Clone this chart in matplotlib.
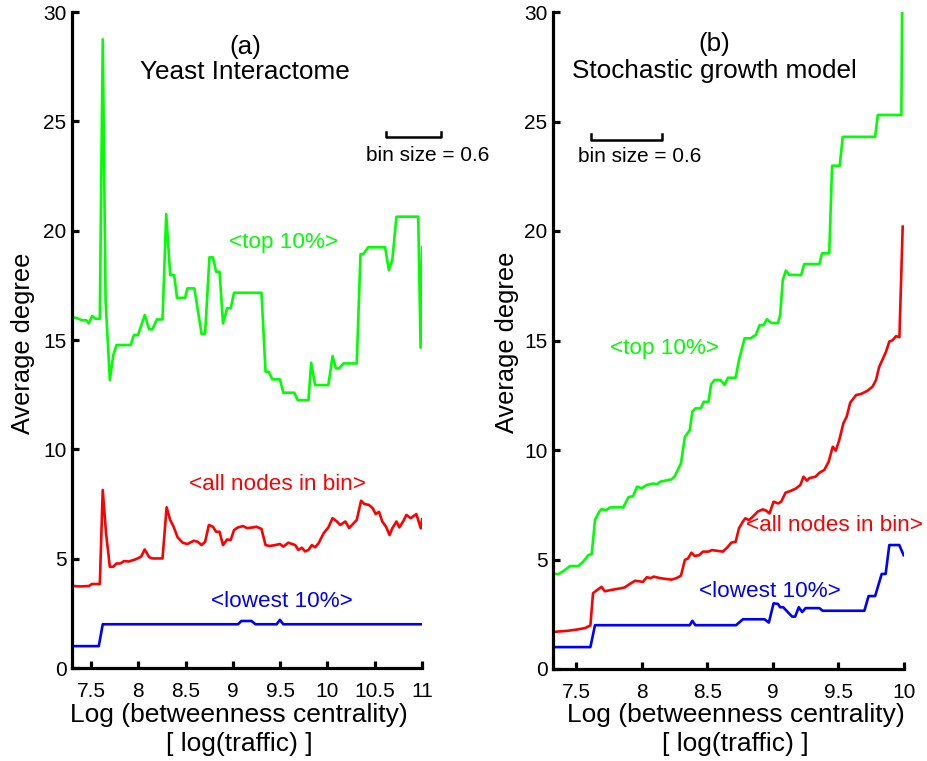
import matplotlib
matplotlib.use("Agg")
import matplotlib.pyplot as plt

plt.rcParams['font.family'] = ['Liberation Sans', 'DejaVu Sans']

# ---------------- Panel (a): Yeast Interactome ----------------
a_top_x = [7.31, 7.353, 7.406, 7.452, 7.477, 7.513, 7.548, 7.594, 7.625, 7.655, 7.70, 7.736, 7.77,
           7.92, 7.955, 7.998, 8.069, 8.115, 8.15, 8.197, 8.257, 8.296, 8.338, 8.38, 8.41, 8.495,
           8.52, 8.594, 8.67, 8.707, 8.753, 8.79, 8.824, 8.86, 8.896, 8.94, 8.977, 9.013, 9.303,
           9.346, 9.38, 9.417, 9.498, 9.534, 9.65, 9.686, 9.80, 9.828, 9.87, 10.01, 10.055, 10.09,
           10.125, 10.17, 10.31, 10.35, 10.38, 10.43, 10.61, 10.65, 10.686, 10.73, 10.96, 10.985, 11.0]
a_top_y = [16.04, 16.0, 15.9, 15.9, 15.76, 16.1, 15.97, 15.97, 28.75, 16.8, 13.17, 14.3, 14.77,
           14.77, 15.23, 15.23, 16.14, 15.49, 15.49, 15.94, 15.94, 20.76, 17.97, 17.97, 16.93, 16.93,
           17.36, 17.36, 15.27, 15.3, 18.78, 18.78, 18.12, 18.12, 15.76, 16.45, 16.45, 17.16, 17.16,
           13.55, 13.55, 13.2, 13.2, 12.59, 12.59, 12.25, 12.25, 13.96, 12.94, 12.94, 14.27, 13.7,
           13.7, 13.93, 13.93, 18.93, 18.93, 19.24, 19.24, 18.2, 18.66, 20.64, 20.64, 14.65, 19.25]

a_all_x = [7.31, 7.39, 7.48, 7.51, 7.594, 7.625, 7.66, 7.70, 7.736, 7.77, 7.81, 7.85, 7.90, 7.973,
           8.03, 8.069, 8.115, 8.15, 8.257, 8.30, 8.338, 8.374, 8.417, 8.47, 8.52, 8.587, 8.63,
           8.67, 8.707, 8.747, 8.79, 8.824, 8.86, 8.896, 8.94, 8.977, 9.013, 9.055, 9.108, 9.15,
           9.215, 9.25, 9.303, 9.346, 9.39, 9.445, 9.498, 9.534, 9.587, 9.66, 9.693, 9.73, 9.764,
           9.80, 9.835, 9.87, 9.906, 9.96, 10.01, 10.055, 10.1, 10.136, 10.19, 10.23, 10.31, 10.356,
           10.39, 10.438, 10.48, 10.51, 10.546, 10.58, 10.62, 10.657, 10.686, 10.73, 10.76, 10.80,
           10.835, 10.88, 10.94, 10.987, 11.0]
a_all_y = [3.75, 3.73, 3.75, 3.84, 3.84, 8.14, 6.16, 4.63, 4.63, 4.78, 4.78, 4.89, 4.87, 4.97,
           5.09, 5.42, 5.07, 5.01, 5.01, 7.35, 6.77, 6.46, 5.97, 5.73, 5.67, 5.82, 5.77,
           5.62, 5.77, 6.54, 6.46, 6.23, 6.23, 5.62, 5.88, 5.85, 6.31, 6.43, 6.49, 6.4,
           6.43, 6.46, 6.36, 5.62, 5.58, 5.62, 5.67, 5.55, 5.73, 5.62, 5.4, 5.5, 5.33,
           5.4, 5.62, 5.52, 5.7, 6.16, 6.43, 6.85, 6.7, 6.54, 6.7, 6.4, 6.77, 7.65,
           7.5, 7.46, 7.3, 7.04, 7.14, 6.7, 6.46, 6.08, 6.39, 6.7, 6.43, 6.7,
           7.0, 6.85, 7.04, 6.39, 6.8]

a_low_x = [7.31, 7.583, 7.625, 9.055, 9.09, 9.197, 9.24, 9.463, 9.498, 9.534, 11.0]
a_low_y = [1.0, 1.0, 2.0, 2.0, 2.15, 2.15, 2.0, 2.0, 2.2, 2.0, 2.0]

# ---------------- Panel (b): Stochastic growth model ----------------
b_top_x = [7.34, 7.37, 7.416, 7.454, 7.518, 7.555, 7.594, 7.62, 7.645, 7.677, 7.695, 7.728, 7.76,
           7.86, 7.90, 7.936, 7.966, 8.0, 8.038, 8.088, 8.12, 8.14, 8.18, 8.228, 8.253, 8.30, 8.33,
           8.367, 8.387, 8.41, 8.45, 8.473, 8.51, 8.53, 8.557, 8.6, 8.633, 8.658, 8.717, 8.742,
           8.785, 8.83, 8.87, 8.9, 8.93, 8.955, 8.99, 9.04, 9.056, 9.076, 9.10, 9.125, 9.216, 9.24,
           9.355, 9.375, 9.43, 9.452, 9.51, 9.533, 9.78, 9.80, 9.98, 9.985]
b_top_y = [4.34, 4.34, 4.52, 4.70, 4.70, 4.9, 5.2, 5.25, 6.8, 7.18, 7.3, 7.25, 7.38,
           7.38, 7.84, 7.9, 8.33, 8.25, 8.4, 8.47, 8.44, 8.55, 8.6, 8.66, 8.8, 9.39, 10.6,
           10.9, 11.75, 11.9, 11.9, 12.2, 12.2, 13.0, 13.2, 13.2, 12.97, 13.3, 13.3, 14.1,
           15.1, 15.1, 15.25, 15.7, 15.7, 15.97, 15.8, 15.8, 16.16, 17.76, 18.19, 18.0, 17.99, 18.49,
           18.49, 18.98, 18.98, 22.98, 22.98, 24.3, 24.3, 25.3, 25.3, 29.94]

b_all_x = [7.34, 7.43, 7.505, 7.57, 7.61, 7.63, 7.66, 7.695, 7.72, 7.76, 7.835, 7.87, 7.91, 7.95,
           8.01, 8.04, 8.07, 8.093, 8.14, 8.228, 8.266, 8.30, 8.33, 8.354, 8.38, 8.405, 8.44,
           8.468, 8.51, 8.536, 8.62, 8.658, 8.684, 8.717, 8.742, 8.772, 8.79, 8.82, 8.848, 8.886,
           8.925, 8.95, 8.975, 9.006, 9.04, 9.064, 9.097, 9.14, 9.178, 9.21, 9.234, 9.26, 9.28,
           9.325, 9.355, 9.393, 9.426, 9.457, 9.48, 9.507, 9.538, 9.563, 9.59, 9.635, 9.673, 9.72,
           9.76, 9.787, 9.81, 9.863, 9.888, 9.91, 9.94, 9.965, 9.99]
b_all_y = [1.70, 1.74, 1.8, 1.87, 1.99, 3.46, 3.6, 3.75, 3.55, 3.6, 3.68, 3.72, 3.88, 4.03,
           3.98, 4.19, 4.15, 4.22, 4.15, 4.08, 4.15, 4.26, 4.98, 5.05, 5.31, 5.16, 5.2,
           5.36, 5.36, 5.43, 5.36, 5.58, 5.77, 5.81, 6.42, 6.73, 6.88, 6.8, 6.96, 7.19,
           7.29, 7.23, 7.1, 7.64, 7.56, 7.64, 8.05, 8.14, 8.25, 8.4, 8.78, 8.6, 8.72,
           8.78, 8.96, 9.09, 9.47, 10.15, 9.97, 10.46, 11.22, 11.52, 12.16, 12.51, 12.56, 12.7,
           12.89, 13.2, 13.78, 14.49, 14.95, 15.0, 15.2, 15.15, 20.2]

b_low_x = [7.34, 7.61, 7.645, 8.367, 8.387, 8.41, 8.72, 8.772, 8.937, 8.97, 9.006, 9.04, 9.056,
           9.08, 9.114, 9.148, 9.17, 9.198, 9.224, 9.25, 9.355, 9.38, 9.698, 9.73, 9.78, 9.83,
           9.86, 9.888, 9.964, 9.997]
b_low_y = [1.0, 1.0, 2.0, 2.0, 2.2, 2.0, 2.0, 2.27, 2.27, 2.12, 3.0, 2.97, 2.82,
           2.82, 2.6, 2.39, 2.39, 2.82, 2.6, 2.78, 2.78, 2.66, 2.66, 3.33, 3.33, 4.34,
           4.34, 5.66, 5.66, 5.2]

a_xticks = [7.5, 8, 8.5, 9, 9.5, 10, 10.5, 11]
a_xticklabels = ['7.5', '8', '8.5', '9', '9.5', '10', '10.5', '11']
b_xticks = [7.5, 8, 8.5, 9, 9.5, 10]
b_xticklabels = ['7.5', '8', '8.5', '9', '9.5', '10']
yticks = [0, 5, 10, 15, 20, 25, 30]
yticklabels = ['0', '5', '10', '15', '20', '25', '30']

GREEN = (0, 1, 0)
RED = (1, 0, 0)
BLUE = (0, 0, 1)

fig = plt.figure(figsize=(9.28, 7.61), dpi=100)
W, H = 928, 761

def make_axes(l, r, t, b):
    return fig.add_axes([l / W, (H - b) / H, (r - l) / W, (b - t) / H])

axa = make_axes(72, 422, 12, 668)
axb = make_axes(553, 904, 12, 669)

def style(ax, xlim, xticks, xticklabels):
    ax.set_xlim(*xlim)
    ax.set_ylim(0, 30)
    ax.set_xticks(xticks)
    ax.set_xticklabels(xticklabels)
    ax.set_yticks(yticks)
    ax.set_yticklabels(yticklabels)
    for s in ['top', 'right']:
        ax.spines[s].set_visible(False)
    for s in ['left', 'bottom']:
        ax.spines[s].set_linewidth(2.3)
    ax.tick_params(direction='in', length=5, width=2.3, labelsize=15)
    ax.tick_params(axis='x', pad=10)
    ax.tick_params(axis='y', pad=4)

lw = 1.9
axa.plot(a_top_x, a_top_y, color=GREEN, lw=lw)
axa.plot(a_all_x, a_all_y, color=RED, lw=lw)
axa.plot(a_low_x, a_low_y, color=BLUE, lw=lw)
style(axa, (7.3, 11.0), a_xticks, a_xticklabels)

axb.plot(b_top_x, b_top_y, color=GREEN, lw=lw)
axb.plot(b_all_x, b_all_y, color=RED, lw=lw)
axb.plot(b_low_x, b_low_y, color=BLUE, lw=lw)
style(axb, (7.325, 10.0), b_xticks, b_xticklabels)

# Titles
TFS = 18.8
axa.text(0.494, 0.946, '(a)', transform=axa.transAxes, ha='center', va='center', fontsize=TFS)
axa.text(0.494, 0.9085, 'Yeast Interactome', transform=axa.transAxes, ha='center', va='center', fontsize=TFS)
axb.text(0.46, 0.952, '(b)', transform=axb.transAxes, ha='center', va='center', fontsize=TFS)
axb.text(0.46, 0.91, 'Stochastic growth model', transform=axb.transAxes, ha='center', va='center', fontsize=TFS)

# Series labels
SFS = 16.2
axa.text(0.603, (19.48) / 30, '<top 10%>', transform=axa.transAxes, ha='center', va='center', fontsize=SFS, color=GREEN)
axa.text(9.473, 8.41, '<all nodes in bin>', ha='center', va='center', fontsize=SFS, color=RED)
axa.text(9.52, 3.06, '<lowest 10%>', ha='center', va='center', fontsize=SFS, color=BLUE)
axb.text(8.177, 14.64, '<top 10%>', ha='center', va='center', fontsize=SFS, color=GREEN)
axb.text(9.47, 6.53, '<all nodes in bin>', ha='center', va='center', fontsize=SFS, color=RED, clip_on=False)
axb.text(8.98, 3.53, '<lowest 10%>', ha='center', va='center', fontsize=SFS, color=BLUE)

# bin size bars
axa.plot([10.62, 10.62, 11.2, 11.2], [24.5, 24.28, 24.28, 24.5], color='black', lw=1.8, clip_on=False)
axa.text(11.06, 23.46, 'bin size = 0.6', ha='center', va='center', fontsize=15)
axb.plot([7.614, 7.614, 8.154, 8.154], [24.42, 24.15, 24.15, 24.42], color='black', lw=1.8, clip_on=False)
axb.text(7.987, 23.38, 'bin size = 0.6', ha='center', va='center', fontsize=15)

# Axis labels
LFS = 19
axa.text(-0.14, 0.495, 'Average degree', transform=axa.transAxes, rotation=90, ha='center', va='center', fontsize=18.3)
axb.text(-0.131, 0.498, 'Average degree', transform=axb.transAxes, rotation=90, ha='center', va='center', fontsize=18.3)
axa.text(0.478, (668 - 715) / 656, 'Log (betweenness centrality)', transform=axa.transAxes, ha='center', va='center', fontsize=LFS)
axa.text(0.478, (668 - 744) / 656, '[ log(traffic) ]', transform=axa.transAxes, ha='center', va='center', fontsize=LFS)
axb.text(0.52, (669 - 715) / 657, 'Log (betweenness centrality)', transform=axb.transAxes, ha='center', va='center', fontsize=LFS)
axb.text(0.52, (669 - 744) / 657, '[ log(traffic) ]', transform=axb.transAxes, ha='center', va='center', fontsize=LFS)

fig.savefig('out.png', dpi=100)
